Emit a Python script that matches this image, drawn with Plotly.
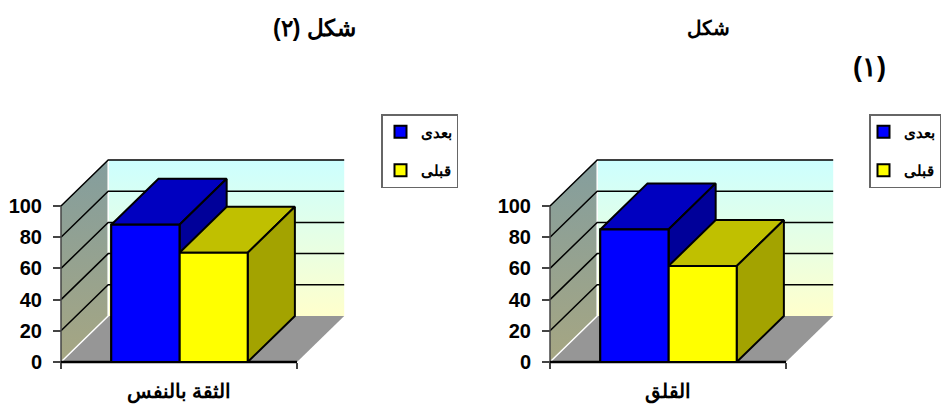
import plotly.graph_objects as go

categories = ["الثقة بالنفس", "القلق"]
series_after = [88, 85]
series_before = [70, 61.5]
series_names = ["بعدى", "قبلى"]
y_ticks = [0, 20, 40, 60, 80, 100]
titles = ["شكل (٢)", "شكل", "(١)"]

W, H = 941, 406
LEFTS = [61, 550]
FONT = "Liberation Sans"
DX, DY = 0.2, 29.5  # depth of the 3-D box in axis units
BAR_EDGES = [0.213, 0.502, 0.791]
X_MAX, Y_MAX = 1.204, 129.5
PAD = 4  # px kept round the box so that edge lines are not clipped
PX_X, PX_Y = 236, 1.56  # px per axis unit
AXIS_X = [0, 0.5, 1]
AXIS_Y = [0, 50, 100]

fig = go.Figure()


def poly(ax, xs, ys, color=None, line=None, lw=2, grad=None):
    kw = dict(fill="toself", fillcolor=color) if grad is None else dict(
        fill="toself",
        fillgradient=dict(type="vertical", colorscale=grad))
    if color is None and grad is None:
        kw = {}
    fig.add_trace(go.Scatter(
        x=xs, y=ys, mode="lines", xaxis=f"x{ax}", yaxis=f"y{ax}",
        line=dict(color=line or "rgba(0,0,0,0)", width=lw, simplify=False),
        showlegend=False, hoverinfo="skip", **kw))


def bar_box(ax, x0, x1, v, front, top, side):
    poly(ax, [x0, x1, x1 + DX, x0 + DX, x0], [v, v, v + DY, v + DY, v], top, "black")
    poly(ax, [x1, x1 + DX, x1 + DX, x1, x1], [0, DY, v + DY, v, 0], side, "black")
    poly(ax, [x0, x1, x1, x0, x0], [0, 0, v, v, 0], front, "black")


for i, ax in enumerate(["", "2"]):
    # walls and floor
    poly(ax, [DX, 1 + DX, 1 + DX, DX, DX], [DY, DY, 100 + DY, 100 + DY, DY],
         grad=[[0, "#FFFFCC"], [1, "#CCFFFF"]])
    poly(ax, [0, DX, DX, 0, 0], [0, DY, 100 + DY, 100, 0],
         grad=[[0, "#A6A682"], [1, "#849E9E"]])
    poly(ax, [0, DX, 1 + DX, 1, 0], [0, DY, DY, 0, 0], "#969696")
    poly(ax, [0, DX, DX], [0, DY, 100 + DY], None, "#FFFFFF", 1.5)
    # gridlines
    for t in y_ticks[1:]:
        poly(ax, [0, DX, 1 + DX], [t, t + DY, t + DY], None, "black", 1.5)
    # axis lines
    poly(ax, [0] * 3, AXIS_Y, None, "#444444", 1.5)
    poly(ax, AXIS_X, [0] * 3, None, "black", 2.5)
    # bars
    e = BAR_EDGES
    bar_box(ax, e[0], e[1], series_after[i], "#0000FF", "#0000C0", "#000099")
    bar_box(ax, e[1], e[2], series_before[i], "#FFFF00", "#C0C000", "#A3A300")
    poly(ax, [e[0], e[1], e[1], e[0], e[0]], [0, 0, series_after[i], series_after[i], 0],
         "#0000FF", "black")
    # legend entries
    leg = "legend" if i == 0 else "legend2"
    for name, col in zip(series_names, ["#0000FF", "#FFFF00"]):
        fig.add_trace(go.Scatter(
            x=[None], y=[None], mode="markers", name=name, legend=leg,
            legendgroup=f"{leg}{name}", xaxis=f"x{ax}", yaxis=f"y{ax}",
            marker=dict(symbol="square", size=10, color=col,
                        line=dict(color="black", width=2))))


def x_axis(left, anchor, cat):
    return dict(
        domain=[(left - PAD) / W, (left + X_MAX * PX_X + PAD) / W],
        range=[-PAD / PX_X, X_MAX + PAD / PX_X],
        anchor="free", position=1 - 362 / H,
        showgrid=False, zeroline=False, showline=False, automargin=False,
        tickvals=[0.5], ticktext=[cat], ticks="", ticklabelstandoff=15,
        tickfont=dict(family=FONT, size=19.5, color="black", weight="bold"),
        minor=dict(tickvals=[0, 1], ticks="outside", ticklen=6, tickcolor="#444444", tickwidth=1.5),
        fixedrange=True)


def y_axis(left):
    return dict(
        domain=[1 - (362 + PAD) / H, 1 - (160 - PAD) / H],
        range=[-PAD / PX_Y, Y_MAX + PAD / PX_Y],
        anchor="free", position=left / W,
        showgrid=False, zeroline=False, showline=False, automargin=False,
        tickvals=y_ticks, ticks="outside", ticklen=8, tickwidth=1.5, tickcolor="#444444",
        ticklabelstandoff=7,
        tickfont=dict(family=FONT, size=20, color="black", weight="bold"),
        fixedrange=True)


def legend(x_px, indent):
    return dict(
        x=x_px / W, xanchor="left", y=1 - 114 / H, yanchor="top",
        bgcolor="white", bordercolor="#666666", borderwidth=1.5,
        font=dict(family=FONT, size=15, color="black", weight="bold"),
        itemsizing="constant", tracegroupgap=16, traceorder="grouped",
        indentation=indent, itemclick=False, itemdoubleclick=False)


def title(txt, x, y, size):
    return dict(text=txt, x=x / W, y=1 - y / H, xref="paper", yref="paper",
                showarrow=False, xanchor="center", yanchor="middle",
                font=dict(family=FONT, size=size, color="black", weight="bold"))


fig.update_layout(
    width=W, height=H, margin=dict(l=0, r=0, t=0, b=0), autosize=False,
    paper_bgcolor="white", plot_bgcolor="white", showlegend=True,
    xaxis=x_axis(LEFTS[0], "y", categories[0]),
    yaxis=y_axis(LEFTS[0]),
    xaxis2=x_axis(LEFTS[1], "y2", categories[1]),
    yaxis2=y_axis(LEFTS[1]),
    legend=legend(381, -2),
    legend2=legend(869, -7),
    annotations=[title(titles[0], 314.5, 28, 23), title(titles[1], 708.5, 28, 20),
                 title(titles[2], 869.5, 67, 27)],
)

fig.write_html("out.html", config={"displayModeBar": False},
               post_script="document.body.style.margin='0';document.body.style.overflow='hidden';")
